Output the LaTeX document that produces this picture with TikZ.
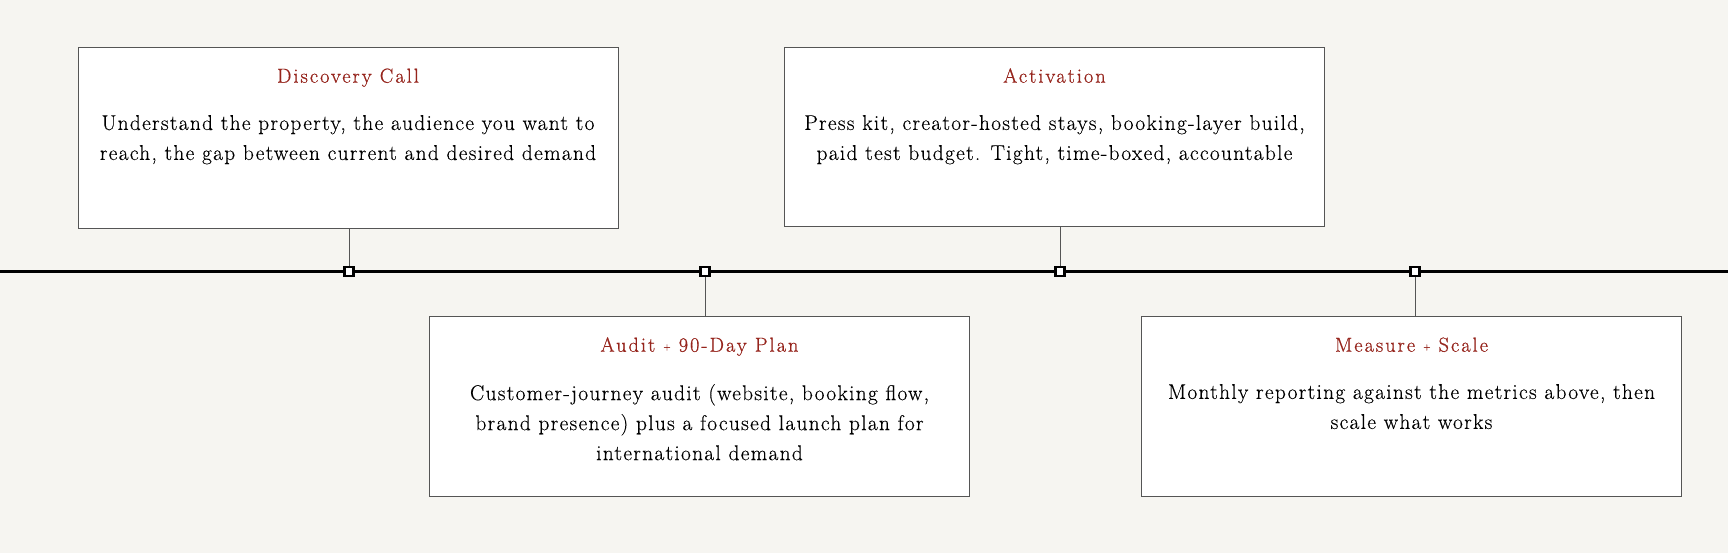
\documentclass[tikz,border=0pt]{standalone}
\usepackage{fontspec}
\setmainfont{Latin Modern Roman}
\newfontfamily\bodyfont{Latin Modern Roman}[LetterSpace=6, FakeBold=0.25]
\newfontfamily\titlefont{Latin Modern Roman}[LetterSpace=10, FakeBold=0.7]
\usepackage{tikz}
\usetikzlibrary{positioning}
\usepackage{xcolor}
\definecolor{tlpaper}{RGB}{246,245,241}
\definecolor{tlred}{RGB}{150,36,28}
\definecolor{tlgrey}{RGB}{85,85,85}
\newcommand{\smallplus}{\raisebox{2pt}{\small+}}
\tikzstyle{card} = [rectangle, draw=tlgrey, fill=white, line width=1pt, minimum width=540pt, minimum height=180pt, inner sep=0pt]
\tikzstyle{cardtitle} = [text=tlred, font=\titlefont\fontsize{20.3}{22}\selectfont, inner sep=0pt, text height=13pt, text depth=4pt]
\tikzstyle{cardtext} = [text=black, font=\bodyfont\fontsize{21.4}{30}\selectfont, align=center, inner sep=0pt]
\tikzstyle{stopmark} = [rectangle, draw=black, fill=white, line width=2.5pt, minimum size=9pt, inner sep=0pt]
\tikzstyle{stem} = [draw=tlgrey, line width=0.9pt]
\tikzstyle{timeline} = [draw=black, line width=3pt]

\begin{document}
\begin{tikzpicture}[x=1pt, y=1pt, node distance=28pt]
\fill[tlpaper] (0,0) rectangle (1728,553);
\useasboundingbox (0,0) rectangle (1728,553);

% timeline
\coordinate (tlstart) at (0,281.5);
\coordinate (tlend) at (1728,281.5);
\draw[timeline] (tlstart) -- (tlend);
\node[stopmark] (m1) at (349,281.5) {};
\node[stopmark] (m2) at (705,281.5) {};
\node[stopmark] (m3) at (1060,281.5) {};
\node[stopmark] (m4) at (1415,281.5) {};

% cards above
\node[card, minimum height=181pt] (disc) at (348,414.5) {};
\node[cardtitle, below=22pt of disc.north] (disctitle) {Discovery Call};
\node[cardtext, below=of disctitle] (disctext) {Understand the property, the audience you want to\\reach, the gap between current and desired demand};

\node[card, minimum height=179pt] (activ) at (1054.5,415.5) {};
\node[cardtitle, below=22pt of activ.north] (activtitle) {Activation};
\node[cardtext, below=of activtitle] (activtext) {Press kit, creator-hosted stays, booking-layer build,\\paid test budget. Tight, time-boxed, accountable};

% cards below
\node[card] (audit) at (699.5,146) {};
\node[cardtitle, below=22pt of audit.north] (audittitle) {Audit \smallplus{} 90-Day Plan};
\node[cardtext, below=of audittitle] (audittext) {Customer-journey audit (website, booking flow,\\brand presence) plus a focused launch plan for\\international demand};

\node[card] (measure) at (1411.5,146) {};
\node[cardtitle, below=22pt of measure.north] (measuretitle) {Measure \smallplus{} Scale};
\node[cardtext, below=of measuretitle] (measuretext) {Monthly reporting against the metrics above, then\\scale what works};

% stems
\draw[stem] (m1) -- (m1 |- disc.south);
\draw[stem] (m2) -- (m2 |- audit.north);
\draw[stem] (m3) -- (m3 |- activ.south);
\draw[stem] (m4) -- (m4 |- measure.north);
\end{tikzpicture}
\end{document}
